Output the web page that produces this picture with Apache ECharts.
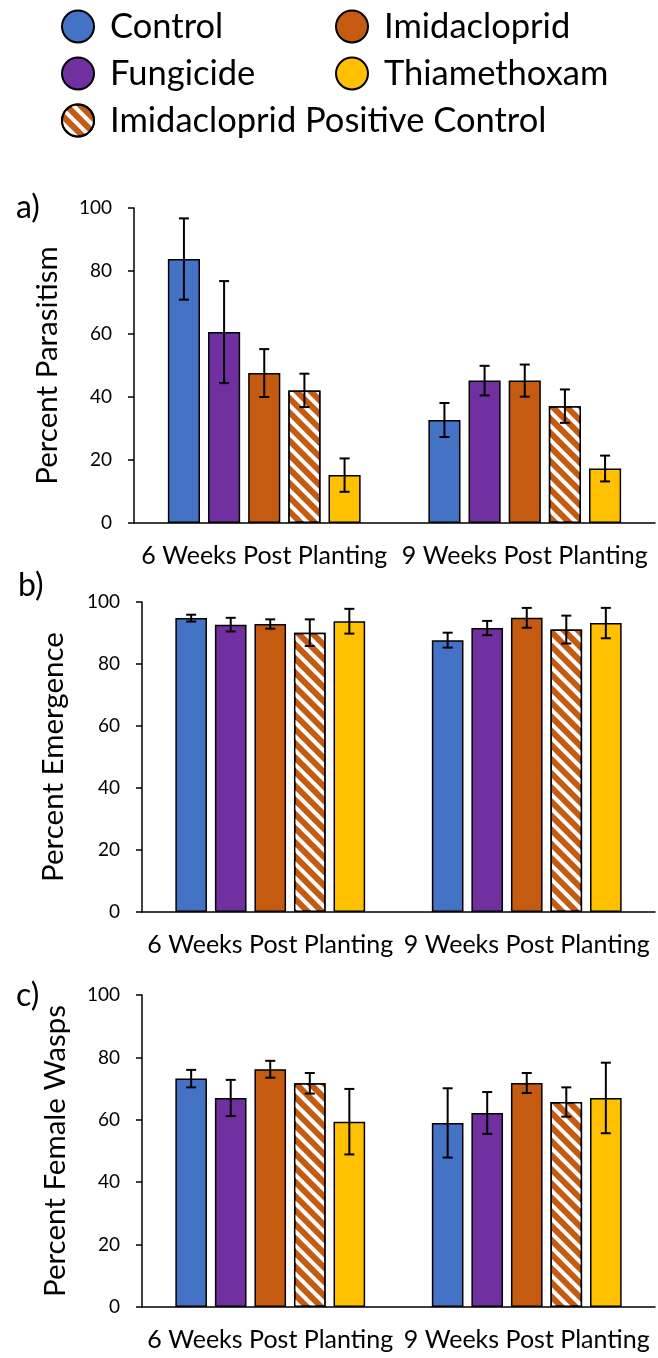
<!DOCTYPE html>
<html>
<head>
<meta charset="utf-8">
<script src="https://cdn.jsdelivr.net/npm/echarts@6/dist/echarts.min.js"></script>
<style>html,body{margin:0;padding:0;background:#fff}#c{width:658px;height:1358px}</style>
</head>
<body>
<div id="c"></div>
<script>
const categories = ['6 Weeks Post Planting', '9 Weeks Post Planting'];
const treatments = ['Control', 'Fungicide', 'Imidacloprid', 'Imidacloprid Positive Control', 'Thiamethoxam'];
const colors = ['#4472C4', '#7030A0', '#C55A11', '#C55A11', '#FFC000'];
const yTicks = [0, 20, 40, 60, 80, 100];

// Panel a) Percent Parasitism — per treatment: [6 weeks, 9 weeks]
const parasitismMean = [[83.8, 32.7], [60.6, 45.2], [47.6, 45.2], [42.1, 37.1], [15.2, 17.3]];
const parasitismErr  = [[12.9, 5.4], [16.2, 4.7], [7.6, 5.1], [5.3, 5.3], [5.3, 4.1]];
// Panel b) Percent Emergence
const emergenceMean = [[94.8, 87.7], [92.7, 91.6], [92.9, 94.9], [90.1, 91.1], [93.8, 93.2]];
const emergenceErr  = [[1.1, 2.4], [2.2, 2.3], [1.5, 3.2], [4.3, 4.5], [4.0, 4.9]];
// Panel c) Percent Female Wasps
const femaleMean = [[73.2, 59.0], [67.0, 62.2], [76.2, 71.8], [71.7, 65.7], [59.4, 67.0]];
const femaleErr  = [[2.8, 11.1], [5.8, 6.7], [2.7, 3.2], [3.3, 4.7], [10.5, 11.3]];

const panels = [
  { letter: 'a)', title: 'Percent Parasitism', mean: parasitismMean, err: parasitismErr },
  { letter: 'b)', title: 'Percent Emergence', mean: emergenceMean, err: emergenceErr },
  { letter: 'c)', title: 'Percent Female Wasps', mean: femaleMean, err: femaleErr }
];

const FONT = 'Lato, "Open Sans", sans-serif';
const CAT_GAP = 0.26, BAR_GAP = 0.25;
const gridPos = [
  { left: 134, top: 208, height: 315, right: 3 },
  { left: 142, top: 602, height: 310, right: 3 },
  { left: 142, top: 995, height: 312, right: 3 }
];
const letterPos = [{ left: 11, top: 187 }, { left: 13, top: 565 }, { left: 11, top: 975 }];
const nameGaps = [72, 74, 72];

const stripeDecal = {
  symbol: 'rect', symbolSize: 1, color: '#ffffff',
  dashArrayX: [1, 0], dashArrayY: [3.5, 6], rotation: Math.PI / 4
};

const grid = [], xAxis = [], yAxis = [], series = [], title = [];
panels.forEach((p, g) => {
  grid.push(Object.assign({ containLabel: false }, gridPos[g]));
  title.push({ text: p.letter, left: letterPos[g].left, top: letterPos[g].top,
    textStyle: { fontFamily: FONT, fontSize: 32, fontWeight: 'normal', color: '#000' } });
  xAxis.push({
    type: 'category', gridIndex: g, data: categories,
    axisLine: { lineStyle: { color: '#000', width: 1.5 } },
    axisTick: { show: false },
    axisLabel: { interval: 0, fontFamily: FONT, fontSize: 25, color: '#000', margin: 20 }
  });
  yAxis.push({
    type: 'value', gridIndex: g, min: yTicks[0], max: yTicks[yTicks.length - 1], interval: yTicks[1] - yTicks[0],
    name: p.title, nameLocation: 'middle', nameGap: nameGaps[g], nameRotate: 90,
    nameTextStyle: { fontFamily: FONT, fontSize: 29.5, color: '#000' },
    axisLine: { show: true, lineStyle: { color: '#000', width: 1.5 } },
    axisTick: { show: true, inside: false, length: 6, lineStyle: { color: '#000', width: 1.5 } },
    splitLine: { show: false },
    axisLabel: { fontFamily: FONT, fontSize: 19, color: '#000', margin: 22 }
  });
  treatments.forEach((t, j) => {
    const s = {
      name: t, type: 'bar', xAxisIndex: g, yAxisIndex: g,
      data: p.mean[j],
      barCategoryGap: (CAT_GAP * 100) + '%', barGap: (BAR_GAP * 100) + '%',
      itemStyle: { color: colors[j], borderColor: '#000', borderWidth: 1.5 },
      emphasis: { disabled: true }
    };
    if (j === 3) s.itemStyle.decal = stripeDecal;
    series.push(s);
  });
  const errData = [];
  treatments.forEach((t, j) => {
    categories.forEach((c, i) => {
      errData.push([i, p.mean[j][i] - p.err[j][i], p.mean[j][i] + p.err[j][i], j]);
    });
  });
  series.push({
    type: 'custom', xAxisIndex: g, yAxisIndex: g, z: 10, silent: true,
    encode: { x: 0, y: [1, 2] },
    data: errData,
    renderItem: function (params, api) {
      const cat = api.value(0);
      const lo = api.coord([cat, api.value(1)]);
      const hi = api.coord([cat, api.value(2)]);
      const band = api.size([1, 0])[0];
      const w = band * (1 - CAT_GAP) / (treatments.length + (treatments.length - 1) * BAR_GAP);
      const x = lo[0] + (api.value(3) - (treatments.length - 1) / 2) * w * (1 + BAR_GAP);
      const cap = 5;
      const st = { stroke: '#000', lineWidth: 2 };
      return {
        type: 'group', children: [
          { type: 'line', shape: { x1: x, y1: lo[1], x2: x, y2: hi[1] }, style: st },
          { type: 'line', shape: { x1: x - cap, y1: lo[1], x2: x + cap, y2: lo[1] }, style: st },
          { type: 'line', shape: { x1: x - cap, y1: hi[1], x2: x + cap, y2: hi[1] }, style: st }
        ]
      };
    }
  });
});

const legendCommon = {
  orient: 'vertical', itemWidth: 34, itemHeight: 32, itemGap: 12,
  icon: 'circle', selectedMode: false,
  itemStyle: { borderColor: '#000', borderWidth: 2 },
  textStyle: { fontFamily: FONT, fontSize: 34.5, color: '#000', padding: [0, 0, 0, 10] }
};
const legend = [
  Object.assign({}, legendCommon, { left: 56, top: 4, data: ['Control', 'Fungicide', 'Imidacloprid Positive Control'] }),
  Object.assign({}, legendCommon, { left: 330, top: 4, data: ['Imidacloprid', 'Thiamethoxam'] })
];

const chart = echarts.init(document.getElementById('c'), null, { renderer: 'canvas' });
chart.setOption({ animation: false, backgroundColor: '#fff', title, legend, grid, xAxis, yAxis, series });
</script>
</body>
</html>
